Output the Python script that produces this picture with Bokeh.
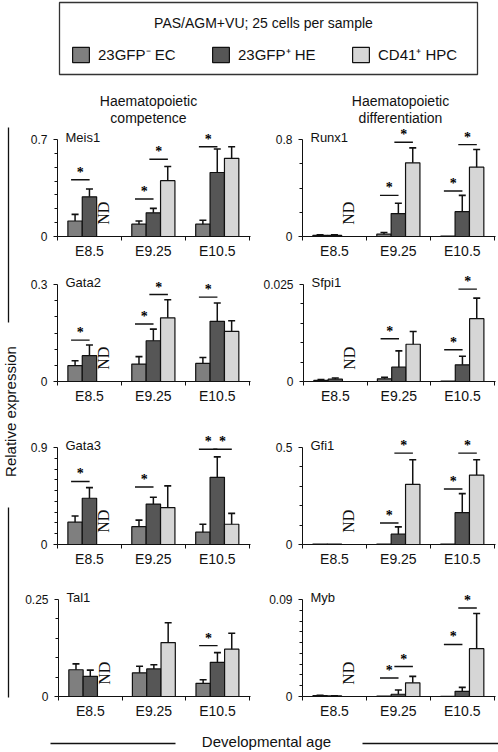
import math
from bokeh.plotting import figure
from bokeh.models import (Range1d, FixedTicker, ColumnDataSource, Label, Legend, LegendItem,
                          BoxAnnotation, Whisker, TeeHead)
from bokeh.layouts import row, column
from bokeh.embed import file_html
from bokeh.resources import INLINE

# ---------------- data ----------------
ages = ["E8.5", "E9.25", "E10.5"]
series_names = ["23GFP\u207b EC", "23GFP\u207a HE", "CD41\u207a HPC"]
series_colors = ["#7f7f7f", "#565656", "#d6d6d6"]
legend_title = "PAS/AGM+VU; 25 cells per sample"
column_titles = [("Haematopoietic", "competence"), ("Haematopoietic", "differentiation")]
y_title = "Relative expression"
x_title = "Developmental age"
nd_text = "ND"

panel_rows = [("Meis1", "Runx1"), ("Gata2", "Sfpi1"), ("Gata3", "Gfi1"), ("Tal1", "Myb")]

y_max = {"Meis1": 0.7, "Runx1": 0.8, "Gata2": 0.3, "Sfpi1": 0.025,
         "Gata3": 0.9, "Gfi1": 0.5, "Tal1": 0.25, "Myb": 0.09}
y_max_label = {"Meis1": "0.7", "Runx1": "0.8", "Gata2": "0.3", "Sfpi1": "0.025",
               "Gata3": "0.9", "Gfi1": "0.5", "Tal1": "0.25", "Myb": "0.09"}
y_minor_step = {"Meis1": 0.1, "Runx1": 0.2, "Gata2": 0.05, "Sfpi1": 0.005,
                "Gata3": 0.1, "Gfi1": 0.1, "Tal1": 0.05, "Myb": 0.01}

# means per age (E8.5, E9.25, E10.5); None = not detected
ec_mean = {"Meis1": [0.112, 0.089, 0.089], "Runx1": [0.010, 0.019, 0.003],
           "Gata2": [0.049, 0.054, 0.056], "Sfpi1": [0.0003, 0.0007, 0.0001],
           "Gata3": [0.207, 0.165, 0.114], "Gfi1": [0.002, 0.002, 0.002],
           "Tal1": [0.069, 0.061, 0.034], "Myb": [0.0008, 0.0003, 0.0002]}
ec_err = {"Meis1": [0.048, 0.023, 0.028], "Runx1": [0.004, 0.014, 0.0],
          "Gata2": [0.015, 0.023, 0.018], "Sfpi1": [0.0002, 0.0004, 0.0],
          "Gata3": [0.057, 0.061, 0.074], "Gfi1": [0.0, 0.0, 0.0],
          "Tal1": [0.015, 0.017, 0.009], "Myb": [0.0003, 0.0, 0.0]}
he_mean = {"Meis1": [0.286, 0.171, 0.462], "Runx1": [0.010, 0.189, 0.205],
           "Gata2": [0.080, 0.126, 0.186], "Sfpi1": [0.0006, 0.0037, 0.0043],
           "Gata3": [0.429, 0.375, 0.623], "Gfi1": [0.002, 0.053, 0.164],
           "Tal1": [0.052, 0.071, 0.088], "Myb": [0.0005, 0.0021, 0.0048]}
he_err = {"Meis1": [0.057, 0.032, 0.169], "Runx1": [0.004, 0.085, 0.134],
          "Gata2": [0.033, 0.036, 0.057], "Sfpi1": [0.0003, 0.0042, 0.0022],
          "Gata3": [0.099, 0.064, 0.190], "Gfi1": [0.0, 0.038, 0.098],
          "Tal1": [0.016, 0.011, 0.025], "Myb": [0.0002, 0.0039, 0.0037]}
hpc_mean = {"Meis1": [None, 0.403, 0.564], "Runx1": [None, 0.608, 0.572],
            "Gata2": [None, 0.197, 0.155], "Sfpi1": [None, 0.0096, 0.0162],
            "Gata3": [None, 0.343, 0.188], "Gfi1": [None, 0.310, 0.358],
            "Tal1": [None, 0.139, 0.122], "Myb": [None, 0.0127, 0.0444]}
hpc_err = {"Meis1": [None, 0.102, 0.084], "Runx1": [None, 0.123, 0.145],
           "Gata2": [None, 0.056, 0.033], "Sfpi1": [None, 0.0033, 0.0053],
           "Gata3": [None, 0.201, 0.101], "Gfi1": [None, 0.127, 0.079],
           "Tal1": [None, 0.051, 0.041], "Myb": [None, 0.0060, 0.0326]}

# significance markers: (age index, pair index 0=EC-HE / 1=HE-HPC, bracket level)
sig = {"Meis1": [(0, 0, 0.41), (1, 0, 0.271), (1, 1, 0.557), (2, 0, 0.648)],
       "Runx1": [(1, 0, 0.339), (1, 1, 0.777), (2, 0, 0.375), (2, 1, 0.758)],
       "Gata2": [(0, 0, 0.128), (1, 0, 0.178), (1, 1, 0.269), (2, 0, 0.261)],
       "Sfpi1": [(1, 0, 0.011), (2, 0, 0.0082), (2, 1, 0.0238)],
       "Gata3": [(0, 0, 0.585), (1, 0, 0.534), (2, 0, 0.884), (2, 1, 0.884)],
       "Gfi1": [(1, 0, 0.111), (1, 1, 0.471), (2, 0, 0.286), (2, 1, 0.471)],
       "Tal1": [(2, 0, 0.131)],
       "Myb": [(1, 0, 0.0172), (1, 1, 0.0278), (2, 0, 0.0483), (2, 1, 0.0821)]}

# ---------------- style ----------------
FONT = "Liberation Sans"
INK = "#111111"
TXT = "#111111"
BAR_W = 0.225
OFFS = [-BAR_W, 0.0, BAR_W]
AXIS_PX = 97
FRAME_H = 110
FRAME_W = 193
TOTAL_W = 498
HEADER_H = 126
FOOTER_H = 26
DECOR_W = 22
row_bottoms = [35, 53, 42, 30]


def make_panel(gene, lb, rb, bottom):
    ymax = y_max[gene]
    p = figure(width=lb + FRAME_W + rb, height=FRAME_H + bottom,
               x_range=Range1d(0.5, 3.52), y_range=Range1d(0, ymax * FRAME_H / AXIS_PX),
               min_border_left=lb, min_border_right=rb, min_border_top=0,
               min_border_bottom=bottom, toolbar_location=None, output_backend="svg")
    p.outline_line_color = None
    p.xgrid.visible = False
    p.ygrid.visible = False

    means = [ec_mean[gene], he_mean[gene], hpc_mean[gene]]
    errs = [ec_err[gene], he_err[gene], hpc_err[gene]]
    xs, tops, cols = [], [], []
    wb, wl, wu = [], [], []
    for si in range(3):
        for ai in range(3):
            v = means[si][ai]
            if v is None:
                continue
            x = ai + 1 + OFFS[si]
            xs.append(x); tops.append(v); cols.append(series_colors[si])
            e = errs[si][ai]
            if e and e > 0:
                wb.append(x); wl.append(v); wu.append(v + e)
    p.vbar(x="x", top="top", width=BAR_W, fill_color="color", line_color=INK,
           line_width=1.2, source=ColumnDataSource(dict(x=xs, top=tops, color=cols)))
    w = Whisker(base="base", lower="lower", upper="upper",
                source=ColumnDataSource(dict(base=wb, lower=wl, upper=wu)),
                lower_head=None, upper_head=TeeHead(size=7, line_width=1.6, line_color=INK),
                line_width=1.5, line_color=INK, level="overlay")
    p.add_layout(w)

    # significance brackets
    x0, x1, xm, yl, st = [], [], [], [], []
    for ai, pi, lvl in sig[gene]:
        c1 = ai + 1 + OFFS[pi]
        c2 = ai + 1 + OFFS[pi + 1]
        mid = (c1 + c2) / 2 - 0.03
        x0.append(mid - 0.145); x1.append(mid + 0.145); xm.append(mid); yl.append(lvl)
        st.append("*")
    ssrc = ColumnDataSource(dict(x0=x0, x1=x1, xm=xm, y=yl, s=st))
    p.segment(x0="x0", y0="y", x1="x1", y1="y", source=ssrc, line_color=INK, line_width=1.4)
    p.text(x="xm", y="y", text="s", source=ssrc, text_align="center",
           text_baseline="bottom", text_font_size="14px", text_font="Liberation Sans",
           text_font_style="bold", text_color="#000000")

    # not detected
    p.text(x=[1 + OFFS[2]], y=[0.24 * ymax], text=[nd_text], angle=math.pi / 2,
           text_align="center", text_baseline="middle", text_font_size="16px",
           text_font="Liberation Sans", text_color=TXT)

    # gene name
    p.add_layout(Label(x=0.5, y=ymax, x_offset=8, y_offset=2, text=gene,
                       text_baseline="middle", text_font_size="13px", text_font=FONT,
                       text_color=TXT))

    # axes
    yt = [k * y_minor_step[gene] for k in range(1, int(round(ymax / y_minor_step[gene])))]
    p.yaxis.ticker = FixedTicker(ticks=[0, ymax], minor_ticks=yt)
    p.yaxis.major_label_overrides = {0: "0", ymax: y_max_label[gene]}
    p.yaxis.bounds = (0, ymax)
    p.xaxis.ticker = FixedTicker(ticks=[1, 2, 3], minor_ticks=[0.5, 1.5, 2.5, 3.5])
    p.xaxis.major_label_overrides = {1: ages[0], 2: ages[1], 3: ages[2]}
    for ax in (p.xaxis, p.yaxis):
        ax.axis_line_color = INK
        ax.axis_line_width = 1
        ax.major_tick_line_color = INK
        ax.minor_tick_line_color = INK
        ax.major_tick_in = 0
        ax.minor_tick_in = 0
        ax.major_label_text_font = FONT
        ax.major_label_text_color = TXT
    p.xaxis.major_tick_out = 0
    p.xaxis.minor_tick_out = 4
    p.xaxis.major_label_standoff = 2
    p.xaxis.major_label_text_font_size = "14px"
    p.yaxis.major_tick_out = 4
    p.yaxis.minor_tick_out = 3
    p.yaxis.major_label_standoff = 6
    p.yaxis.major_label_text_font_size = "12px"
    return p


def blank(width, height):
    p = figure(width=width, height=height, x_range=Range1d(0, width), y_range=Range1d(0, height),
               min_border=0, x_axis_type=None, y_axis_type=None, toolbar_location=None,
               output_backend="svg")
    p.outline_line_color = None
    return p


# header: legend box + column titles
hp = blank(TOTAL_W, HEADER_H)
hp.add_layout(BoxAnnotation(left=59, right=477, top=124, bottom=52, fill_alpha=0,
                            line_color="#333333", line_alpha=1, line_width=1.3))
hp.add_layout(Label(x=263, y=104, text=legend_title, text_align="center", text_baseline="middle",
                    text_font=FONT, text_font_size="14px", text_color=TXT))
nan = float("nan")
rs = [hp.vbar(x=[nan], top=[nan], width=1, fill_color=c, line_color=INK, line_width=1.2)
      for c in series_colors]
leg = Legend(items=[LegendItem(label=n, renderers=[r]) for n, r in zip(series_names, rs)],
             orientation="horizontal", location=(70, 62), padding=0, margin=0, spacing=22,
             glyph_width=21, glyph_height=19, label_height=19, label_width=90, label_standoff=7,
             label_text_font=FONT, label_text_font_size="15px", label_text_color=TXT,
             border_line_alpha=0, background_fill_alpha=0)
hp.add_layout(leg)
for cx, (l1, l2) in zip([148, 400], column_titles):
    hp.add_layout(Label(x=cx, y=26, text=l1, text_align="center", text_baseline="middle",
                        text_font=FONT, text_font_size="14px", text_color=TXT))
    hp.add_layout(Label(x=cx, y=9, text=l2, text_align="center", text_baseline="middle",
                        text_font=FONT, text_font_size="14px", text_color=TXT))

# left decoration: y title
panels_h = sum(FRAME_H + b for b in row_bottoms)
lp = blank(DECOR_W, panels_h)
lp.segment(x0=[8, 8], y0=[599, 219], x1=[8, 8], y1=[404, 29], line_color=INK, line_width=1.3)
lp.add_layout(Label(x=10, y=315, text=y_title, angle=math.pi / 2, text_align="center",
                    text_baseline="middle", text_font=FONT, text_font_size="15px", text_color=TXT))

# footer: x title
fp = blank(TOTAL_W, FOOTER_H)
fp.segment(x0=[50, 362], y0=[9, 9], x1=[175, 498], y1=[9, 9], line_color=INK, line_width=1.3)
fp.add_layout(Label(x=266, y=11, text=x_title, text_align="center", text_baseline="middle",
                    text_font=FONT, text_font_size="15px", text_color=TXT))

grid_rows = []
for (gl, gr), b in zip(panel_rows, row_bottoms):
    grid_rows.append(row(make_panel(gl, 35, 10, b), make_panel(gr, 42, 3, b)))

layout = column(hp, row(lp, column(*grid_rows)), fp)

open("out.html", "w").write(file_html(layout, INLINE, title="Relative expression"))
